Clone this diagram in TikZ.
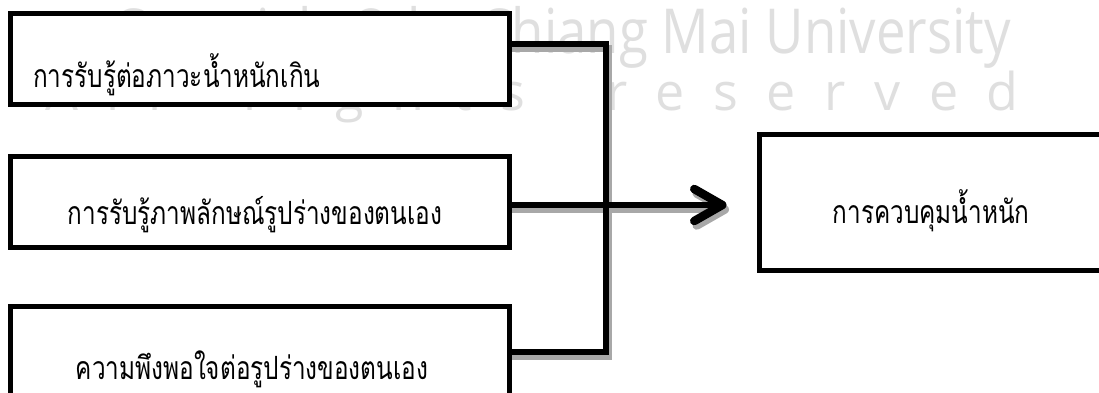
\documentclass[tikz,border=0pt]{standalone}
\usepackage{fontspec}
\newfontfamily\thaifont[Script=Thai]{Loma}
\newfontfamily\wmfont{Open Sans}
\usetikzlibrary{arrows.meta,calc}
\definecolor{wm}{HTML}{DFDFDF}
\definecolor{shade}{HTML}{A8A8A8}
\newcommand{\thlabel}[1]{\scalebox{0.76}[1]{#1}}
\begin{document}
\begin{tikzpicture}[x=1pt,y=-1pt,
  box/.style={draw=black, line width=5pt, fill=white, minimum width=499pt,
    minimum height=91pt, inner sep=0pt, outer sep=0pt},
  lbl/.style={font=\thaifont\fontsize{32}{36}\selectfont, inner sep=0pt},
  conn/.style={line width=6.5pt, draw=black},
  shadowconn/.style={line width=6.5pt, draw=shade, transform canvas={shift={(2.5pt,-4.5pt)}}},
  tipstyle/.style={-{Straight Barb[length=28pt, width=32pt, line width=8.5pt, round]}},
  wmark/.style={text=wm, inner sep=0pt}
]
\clip (0,0) rectangle (1099,392);
\fill[white] (0,0) rectangle (1099,392);
% watermark
\node[wmark, anchor=base east, font=\wmfont\fontsize{62}{66}\selectfont] (w1) at (1011,53)
  {\scalebox{0.85}[1]{Copyright\textcopyright{} by Chiang Mai University}};
\node[wmark, anchor=base east, font=\wmfont\fontsize{52}{60}\selectfont\addfontfeatures{LetterSpace=55}] (w2) at (1019,110)
  {All\hspace{40pt} rights\hspace{40pt} reserved};
% boxes
\node[box] (b1) at (260,59) {};
\node[box] (b2) at (260,202) {};
\node[box] (b3) at (260,352) {};
\node[box, minimum width=348pt, minimum height=136pt] (out) at (933.5,202.5) {};
% junction coordinates
\coordinate (j1) at (606,44);
\coordinate (j3) at (606,352);
\coordinate (jm) at (606,205);
\coordinate (tip) at ($(out.west |- jm)+(-33,0)$);
% shadows
\draw[shadowconn] (b1.east |- j1) -- (j1) -- (j3) -- (b3.east |- j3);
\draw[shadowconn, tipstyle] (b2.east |- jm) -- (tip);
% connectors
\draw[conn] (b1.east |- j1) -- (j1) -- (j3) -- (b3.east |- j3);
\draw[conn, tipstyle] (b2.east |- jm) -- (tip);
% labels
\node[lbl, anchor=base west] (t1) at (33,87) {\thlabel{การรับรู้ต่อภาวะน้ำหนักเกิน}};
\node[lbl, anchor=base] (t2) at (255,224) {\thlabel{การรับรู้ภาพลักษณ์รูปร่างของตนเอง}};
\node[lbl, anchor=base, text depth=0pt] (t3) at (252,379) {\thlabel{ความพึงพอใจต่อรูปร่างของตนเอง}};
\node[lbl, anchor=base] (t4) at (931,223) {\thlabel{การควบคุมน้ำหนัก}};
\end{tikzpicture}
\end{document}
